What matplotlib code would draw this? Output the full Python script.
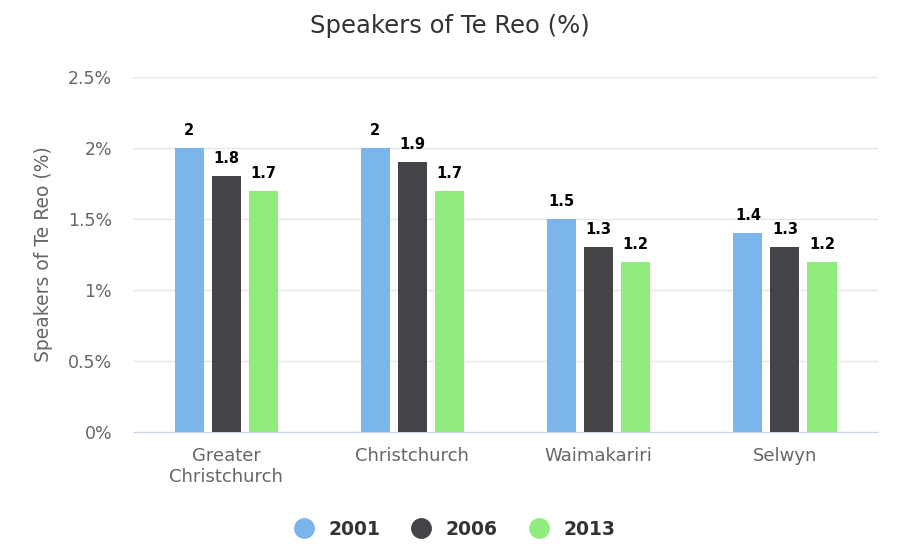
import matplotlib.pyplot as plt
from matplotlib.lines import Line2D
import numpy as np

regions = ["Greater\nChristchurch", "Christchurch", "Waimakariri", "Selwyn"]
years = ["2001", "2006", "2013"]
v2001 = [2.0, 2.0, 1.5, 1.4]
v2006 = [1.8, 1.9, 1.3, 1.3]
v2013 = [1.7, 1.7, 1.2, 1.2]
colors = ["#7cb5ec", "#434348", "#90ed7d"]

fig = plt.figure(figsize=(9, 5.44), dpi=100)
ax = fig.add_axes([0.1478, 0.2059, 0.8278, 0.6526])

x = np.arange(len(regions))
width = 0.156
step = 0.199
for i, (vals, c) in enumerate(zip([v2001, v2006, v2013], colors)):
    pos = x + (i - 1) * step
    ax.bar(pos, vals, width=width, color=c, zorder=3)
    for p, v in zip(pos, vals):
        ax.text(p, v + 0.07, ("%g" % v), ha="center", va="bottom",
                fontsize=10.5, fontweight="bold", color="black", zorder=4)

ax.set_xlim(-0.5, len(regions) - 0.5)
ax.set_ylim(0, 2.5)
ax.set_yticks([0, 0.5, 1, 1.5, 2, 2.5])
ax.set_yticklabels(["0%", "0.5%", "1%", "1.5%", "2%", "2.5%"])
ax.set_xticks(x)
ax.set_xticklabels(regions)
ax.grid(axis="y", color="#e6e6e6", linewidth=1, zorder=0)
for s in ["top", "right", "left"]:
    ax.spines[s].set_visible(False)
ax.spines["bottom"].set_color("#ccd6eb")
ax.tick_params(axis="y", length=0, labelsize=12.5, labelcolor="#666666", pad=15)
ax.tick_params(axis="x", length=0, labelsize=13, labelcolor="#666666", pad=11)
ax.set_ylabel("Speakers of Te Reo (%)", fontsize=13.5, color="#666666", labelpad=11)

fig.text(0.5, 0.953, "Speakers of Te Reo (%)", ha="center", va="center",
         fontsize=17.5, color="#333333")

handles = [Line2D([], [], marker="o", linestyle="", markersize=14,
                  markerfacecolor=c, markeredgecolor=c) for c in colors]
leg = fig.legend(handles, years, loc="center", bbox_to_anchor=(0.5, 0.027),
                 ncol=3, frameon=False, handletextpad=0.3, columnspacing=1.2,
                 prop={"size": 13.5, "weight": "bold"})
for t in leg.get_texts():
    t.set_color("#333333")

fig.savefig("out.png", dpi=100)
